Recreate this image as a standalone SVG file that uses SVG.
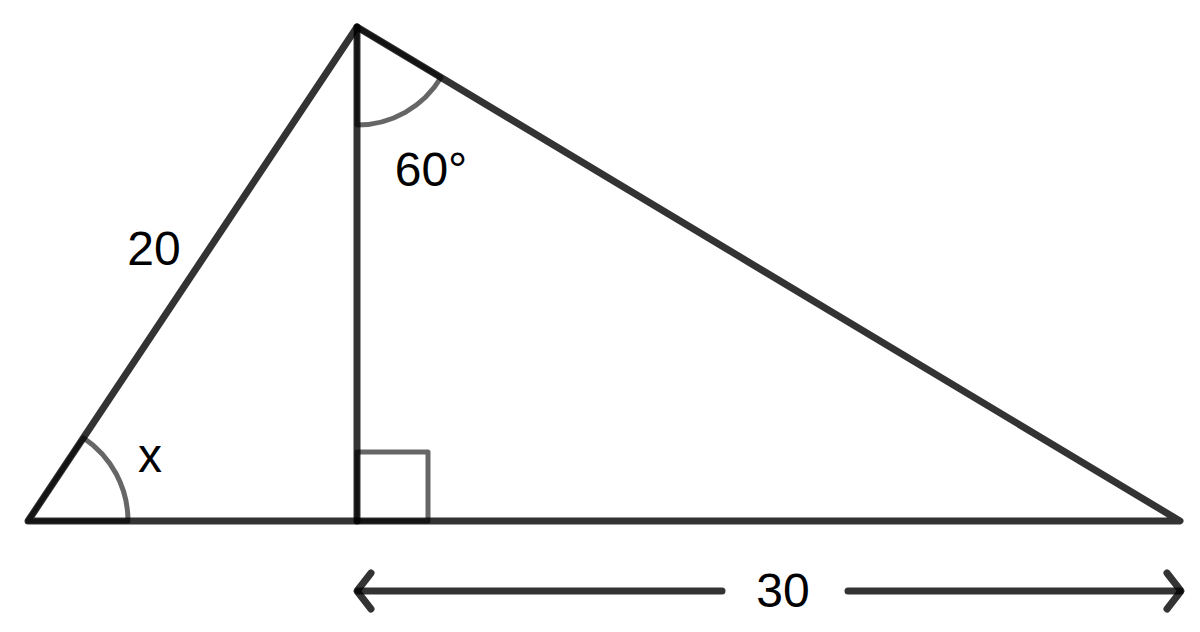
<svg xmlns="http://www.w3.org/2000/svg" width="1200" height="632" viewBox="0 0 1200 632">
<style>
.ln{fill:none;stroke:#000;stroke-opacity:0.8;stroke-width:7;stroke-linecap:round;stroke-linejoin:round}
.mk{fill:none;stroke:#000;stroke-opacity:0.6;stroke-width:5;stroke-linejoin:round}
.lbl{font-family:"Liberation Sans",Arial,sans-serif;font-size:48px;fill:#000}
</style>
<rect width="1200" height="632" fill="#fff"/>
<g id="angle-x">
<path class="mk" d="M28 521 L83.4 437.8 A100 100 0 0 1 128 521 Z"/>
<text class="lbl" x="150" y="472" text-anchor="middle">x</text>
</g>
<g id="angle-60">
<path class="mk" d="M357 27 L357 125 A98 98 0 0 0 441 77.5 Z"/>
<text class="lbl" x="431" y="186" text-anchor="middle">60°</text>
</g>
<g id="right-angle">
<path class="mk" d="M357 452 L428 452 L428 521 L357 521 Z"/>
</g>
<g id="triangle">
<path class="ln" d="M28 521 L357 27 L1180 521 Z"/>
<line class="ln" x1="357" y1="27" x2="357" y2="521"/>
<text class="lbl" x="154" y="265" text-anchor="middle">20</text>
</g>
<g id="connectors">
<line class="ln" x1="358" y1="591" x2="722" y2="591"/>
<polyline class="ln" points="371,573 357,591 371,609"/>
<line class="ln" x1="848" y1="591" x2="1180" y2="591"/>
<polyline class="ln" points="1167,573 1181,591 1167,609"/>
<text class="lbl" x="783" y="607" text-anchor="middle">30</text>
</g>
</svg>
